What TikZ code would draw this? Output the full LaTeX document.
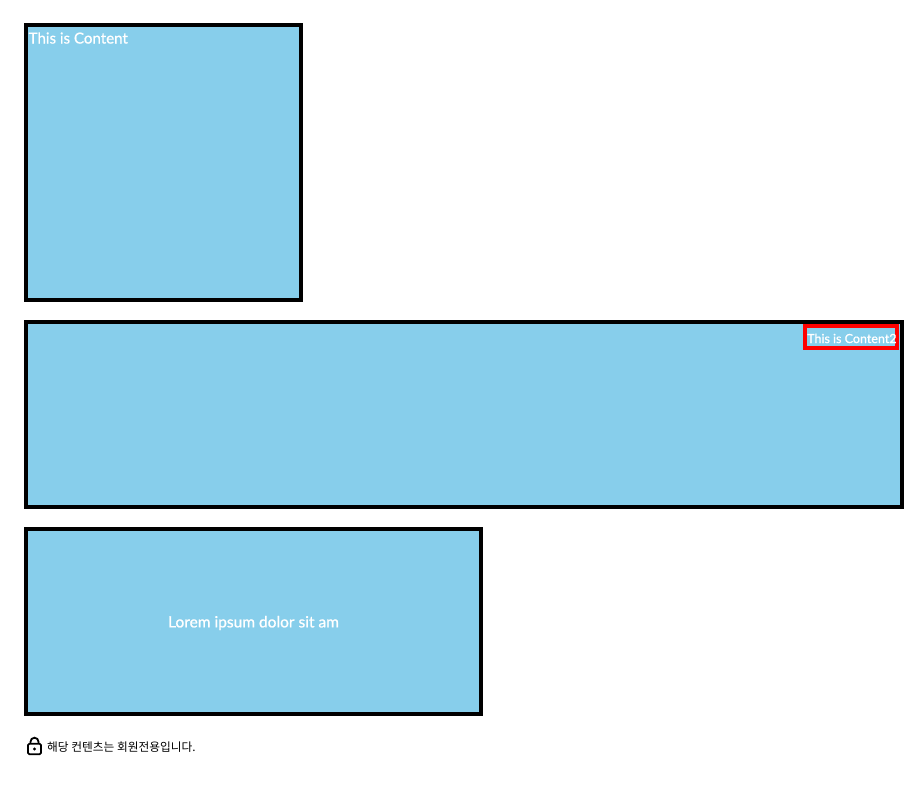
\documentclass[tikz,border=0pt]{standalone}
\usepackage{fontspec}
\setmainfont[FakeBold=0.9]{Lato}
\newfontfamily\krfont{Noto Sans CJK KR}
\definecolor{skyb}{HTML}{87CEEB}
\definecolor{redb}{HTML}{FF0000}
\tikzset{
  panel/.style={draw=black,fill=skyb,line width=4pt,inner sep=0pt,minimum width=#1},
  lbl/.style={text=white,inner sep=0pt,anchor=base west},
}
\begin{document}
\begin{tikzpicture}[x=1pt,y=-1pt]
\useasboundingbox (0,0) rectangle (924,809);
\node[panel=275pt,minimum height=275pt,anchor=north west] (p1) at (24,23) {};
\node[panel=876pt,minimum height=185pt,anchor=north west] (p2) at (24,320) {};
\node[panel=455pt,minimum height=185pt,anchor=north west] (p3) at (24,527) {};
\node[draw=redb,line width=4pt,fill=skyb,minimum width=92pt,minimum height=22pt,inner sep=0pt,anchor=north west] (rb) at (803,324) {};
\node[lbl,font=\fontsize{15.1}{18}\selectfont] (t1) at (28.5,43.5) {This is Content};
\node[lbl,font=\fontsize{12.5}{16}\selectfont] (t2) at (807,343) {This is Content2};
\node[text=white,inner sep=0pt,font=\fontsize{15.5}{19}\selectfont] (t3) at (253.5,623) {Lorem ipsum dolor sit am};
\node[inner sep=0pt,anchor=base west,font=\fontsize{11.7}{14}\selectfont\krfont] (t4) at (47,751) {해당 컨텐츠는 회원전용입니다.};
% lock icon
\draw[line width=1.8pt,rounded corners=1.5pt] (28,743.7) rectangle (41,754.3);
\draw[line width=1.8pt] (30.5,743.7) -- (30.5,741.7) arc[start angle=180,end angle=360,radius=4] -- (38.5,743.7);
\fill (34.5,749) circle[radius=1.7];
\end{tikzpicture}
\end{document}
